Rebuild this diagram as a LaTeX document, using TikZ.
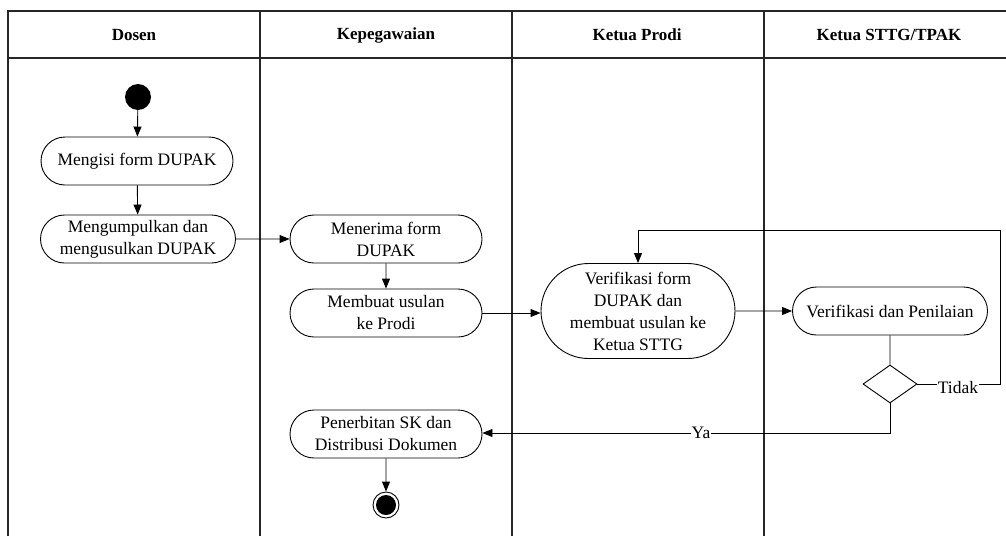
\documentclass[tikz,border=0pt]{standalone}
\usepackage{fontspec}
\setmainfont{Liberation Serif}
\usetikzlibrary{shapes.geometric,shapes.misc,arrows.meta}
\begin{document}
\begin{tikzpicture}[x=1pt,y=-1pt,
  act/.style={draw,rounded rectangle,minimum width=194pt,minimum height=48pt,align=center,font=\fontsize{17.5}{22}\selectfont,line width=0.9pt,inner sep=1pt},
  lane/.style={line width=1.4pt,draw=black!85},
  flow/.style={line width=0.9pt,-{Triangle[length=10pt,width=8pt]}},
  hdr/.style={font=\bfseries\fontsize{17}{19}\selectfont},
  lbl/.style={fill=white,inner sep=0.5pt,font=\fontsize{17.5}{20}\selectfont}]
\useasboundingbox (0,0) rectangle (1006,536);
% swimlanes
\draw[lane] (8,536) -- (8,11) -- (1006,11);
\draw[lane] (8,58) -- (1006,58);
\draw[lane] (260,11) -- (260,536);
\draw[lane] (512,11) -- (512,536);
\draw[lane] (764,11) -- (764,536);
\node[hdr] (h1) at (134,35) {Dosen};
\node[hdr] (h2) at (386,35) {Kepegawaian};
\node[hdr] (h3) at (637,35) {Ketua Prodi};
\node[hdr] (h4) at (889,35) {Ketua STTG/TPAK};
% nodes
\node[circle,fill=black,minimum size=26pt,inner sep=0] (start) at (138,97) {};
\node[act] (a1) at (137,161) {Mengisi form DUPAK};
\node[act,minimum width=197pt] (a2) at (138,239) {Mengumpulkan dan\\mengusulkan DUPAK};
\node[act] (b1) at (386,239) {Menerima form\\DUPAK};
\node[act] (b2) at (386,313) {Membuat usulan\\ke Prodi};
\node[act,minimum width=196pt,minimum height=95pt] (c1) at (638,311) {Verifikasi form\\DUPAK dan\\membuat usulan ke\\Ketua STTG};
\node[act,minimum width=197pt] (d1) at (890,311) {Verifikasi dan Penilaian};
\node[diamond,draw,line width=0.9pt,minimum width=54pt,minimum height=38pt,inner sep=0] (dec) at (890,384) {};
\node[act] (b3) at (386,434) {Penerbitan SK dan\\Distribusi Dokumen};
\node[circle,draw,line width=0.9pt,minimum size=26pt,inner sep=0] (end) at (386,505) {};
\node[circle,fill=black,minimum size=20pt,inner sep=0] (endin) at (386,505) {};
\coordinate (t1) at (1000,384);
\coordinate (t2) at (1000,230);
\coordinate (t3) at (638,230);
\coordinate (y1) at (890,433);
% connectors
\draw[flow] (start) -- (a1);
\draw[flow] (a1) -- (a2);
\draw[flow] (a2) -- (b1);
\draw[flow] (b1) -- (b2);
\draw[flow] (b2.east) -- (c1.west |- b2.east);
\draw[flow] (c1) -- (d1);
\draw[line width=0.9pt] (d1) -- (dec);
\draw[flow] (dec.east) -- (t1) -- (t2) -- (t3) -- (c1.north);
\node[lbl] (tidak) at (958,388) {Tidak};
\draw[flow] (dec.south) -- (y1) -- (b3.east |- y1);
\node[lbl] (ya) at (701,433) {Ya};
\draw[flow] (b3) -- (end);
\end{tikzpicture}
\end{document}
